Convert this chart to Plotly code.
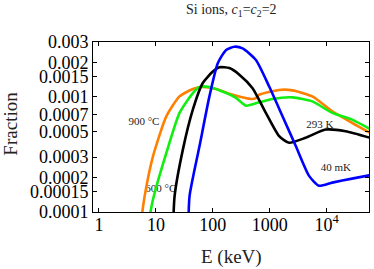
import plotly.graph_objects as go

# Data (E in keV, Fraction)
orange_x = [5.4, 6.35, 8.9, 15.3, 26, 44.5, 66.5, 114, 223, 470, 560, 652, 1460, 2500, 5580, 12500, 27800, 57000]
orange_y = [7.8e-5, 1.38e-4, 3.06e-4, 6.8e-4, 1.01e-3, 1.17e-3, 1.22e-3, 1.17e-3, 1.045e-3, 9.6e-4, 9.7e-4, 1.045e-3, 1.15e-3, 1.14e-3, 1.01e-3, 7.5e-4, 5.95e-4, 4.88e-4]

green_x = [7.4, 8.9, 15.3, 26, 44.5, 58.3, 87, 171, 255, 382, 652, 1110, 2500, 5580, 12500, 27800, 57000]
green_y = [8e-5, 1.29e-4, 3.28e-4, 7.26e-4, 1.08e-3, 1.22e-3, 1.22e-3, 1.08e-3, 9.8e-4, 8.4e-4, 8.97e-4, 9.6e-4, 9.9e-4, 9.15e-4, 7.26e-4, 6.35e-4, 5.28e-4]

black_x = [20, 21.3, 29.8, 44.5, 66.5, 100, 131, 195, 292, 498, 852, 1460, 2180, 4270, 9560, 21400, 57000]
black_y = [7e-5, 1.38e-4, 3.5e-4, 7.75e-4, 1.32e-3, 1.66e-3, 1.81e-3, 1.78e-3, 1.56e-3, 1.19e-3, 7.26e-4, 4.56e-4, 4.0e-4, 4.42e-4, 5.2e-4, 5.04e-4, 4.42e-4]

blue_x = [37, 39, 58.3, 87, 122, 171, 238, 333, 570, 975, 1670, 2860, 4890, 7300, 12500, 27800, 57000]
blue_y = [7e-5, 1.38e-4, 3.74e-4, 1.01e-3, 1.96e-3, 2.56e-3, 2.73e-3, 2.64e-3, 2.09e-3, 1.23e-3, 6.8e-4, 3.74e-4, 2.06e-4, 1.69e-4, 1.8e-4, 1.95e-4, 2.09e-4]

label_text = ["900 °C", "600 °C", "293 K", "40 mK"]
label_x = [6.15, 12.2, 7540, 14400]
label_y = [6.04e-4, 1.59e-4, 5.69e-4, 2.41e-4]

x_tickvals = [1, 10, 100, 1000, 10000]
x_ticktext = ["1", "10", "100", "1000", "10<sup>4</sup>"]
y_tickvals = [0.003, 0.002, 0.0015, 0.001, 0.0007, 0.0005, 0.0003, 0.0002, 0.00015, 0.0001]
y_ticktext = ["0.003", "0.002", "0.0015", "0.001", "0.0007", "0.0005", "0.0003", "0.0002", "0.00015", "0.0001"]

FONT = "Liberation Serif"

fig = go.Figure()
fig.add_trace(go.Scatter(x=label_x, y=label_y, text=label_text, mode="text",
                         textfont=dict(family=FONT, size=11, color="#222"),
                         showlegend=False, hoverinfo="skip"))
for xs, ys, col in [(orange_x, orange_y, "#ff8000"), (green_x, green_y, "#11ee11"),
                    (black_x, black_y, "#000000"), (blue_x, blue_y, "#0000ff")]:
    fig.add_trace(go.Scatter(x=xs, y=ys, mode="lines",
                             line=dict(color=col, width=2.6, shape="spline", smoothing=0.6),
                             showlegend=False))

axis_common = dict(type="log", showgrid=False, zeroline=False, showline=True,
                   linecolor="black", linewidth=1, mirror="ticks", ticks="inside",
                   ticklen=4, tickcolor="black", automargin=False,
                   tickfont=dict(family=FONT, size=18, color="black"))

fig.update_xaxes(range=[-0.105, 4.742], tickvals=x_tickvals, ticktext=x_ticktext,
                 ticklabelstandoff=-4, **axis_common)
fig.update_yaxes(range=[-4, -2.5229], tickvals=y_tickvals, ticktext=y_ticktext, **axis_common)

fig.update_layout(
    width=374, height=269,
    margin=dict(l=93, r=5, t=42, b=57),
    plot_bgcolor="white", paper_bgcolor="white",
    annotations=[
        dict(text="Si ions, <i>c</i><sub>1</sub>=<i>c</i><sub>2</sub>=2", xref="paper", yref="paper",
             x=0.503, y=1.186, xanchor="center", yanchor="middle", showarrow=False,
             font=dict(family=FONT, size=14, color="#222")),
        dict(text="E (keV)", xref="paper", yref="paper", x=0.503, y=-0.262,
             xanchor="center", yanchor="middle", showarrow=False,
             font=dict(family=FONT, size=19, color="#222")),
        dict(text="Fraction", xref="paper", yref="paper", x=-0.297, y=0.52,
             xanchor="center", yanchor="middle", showarrow=False, textangle=-90,
             font=dict(family=FONT, size=19, color="#222")),
    ],
)

fig.write_html("out.html", config={"displayModeBar": False},
               post_script="document.body.style.margin='0';")
